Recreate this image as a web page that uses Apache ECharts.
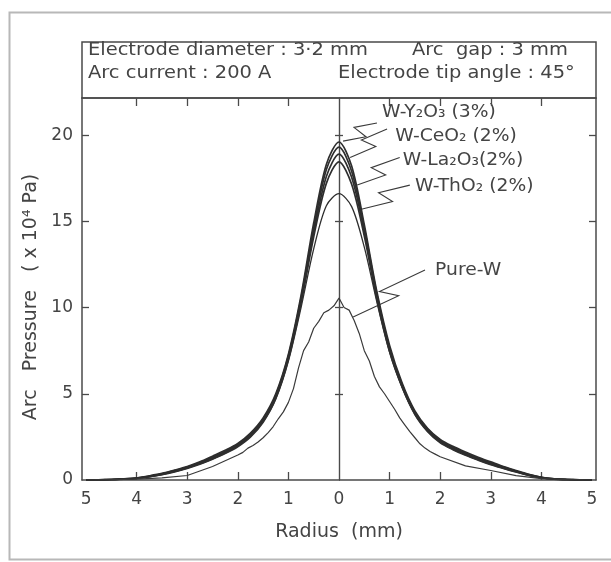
<!DOCTYPE html>
<html><head><meta charset="utf-8">
<script src="https://cdn.jsdelivr.net/npm/echarts@6/dist/echarts.min.js"></script>
<style>html,body{margin:0;padding:0;background:#fff}#c{width:611px;height:562px}</style>
</head><body><div id="c"></div>
<script>
// ---- data ----
const radius = [-5,-4.75,-4.5,-4.25,-4,-3.75,-3.5,-3.25,-3,-2.75,-2.5,-2.25,-2,-1.75,-1.5,-1.25,-1,-0.75,-0.5,-0.25,0,0.25,0.5,0.75,1,1.25,1.5,1.75,2,2.25,2.5,2.75,3,3.25,3.5,3.75,4,4.25,4.5,4.75,5];
const wY2O3  = [0,0.01,0.03,0.07,0.12,0.24,0.38,0.57,0.78,1.05,1.38,1.72,2.12,2.72,3.6,5.0,7.3,10.7,14.9,18.3,19.6,18.2,14.8,10.9,7.8,5.6,4.0,3.0,2.35,1.95,1.62,1.32,1.05,0.78,0.55,0.33,0.16,0.07,0.03,0.01,0];
const wCeO2  = [0,0.01,0.03,0.06,0.11,0.22,0.36,0.54,0.75,1.01,1.33,1.67,2.07,2.66,3.52,4.9,7.2,10.55,14.6,18.0,19.3,17.9,14.6,10.75,7.65,5.5,3.93,2.95,2.3,1.9,1.57,1.27,1.0,0.75,0.52,0.31,0.15,0.06,0.03,0.01,0];
const wLa2O3 = [0,0.01,0.03,0.06,0.1,0.2,0.34,0.51,0.72,0.97,1.28,1.62,2.02,2.6,3.45,4.82,7.1,10.4,14.35,17.6,18.9,17.55,14.4,10.6,7.55,5.43,3.88,2.9,2.25,1.85,1.52,1.22,0.96,0.72,0.5,0.3,0.14,0.06,0.03,0.01,0];
const wOther = [0,0.01,0.02,0.05,0.1,0.19,0.32,0.49,0.7,0.94,1.24,1.57,1.97,2.54,3.4,4.75,7.0,10.25,14.1,17.2,18.45,17.15,14.15,10.45,7.45,5.38,3.83,2.85,2.2,1.8,1.47,1.18,0.92,0.69,0.48,0.28,0.13,0.05,0.02,0.01,0];
const wThO2  = [0,0.01,0.02,0.05,0.09,0.18,0.3,0.46,0.66,0.9,1.19,1.52,1.92,2.48,3.33,4.68,6.9,10.0,13.4,15.9,16.6,15.85,13.5,10.3,7.4,5.33,3.78,2.8,2.15,1.75,1.42,1.14,0.88,0.66,0.45,0.26,0.12,0.05,0.02,0.01,0];
const pureWRadius = [-5,-4.5,-4,-3.5,-3,-2.5,-2,-1.9,-1.8,-1.7,-1.6,-1.5,-1.4,-1.3,-1.2,-1.1,-1,-0.9,-0.8,-0.7,-0.6,-0.5,-0.4,-0.3,-0.2,-0.1,0,0.1,0.2,0.3,0.4,0.5,0.6,0.7,0.8,0.9,1,1.1,1.2,1.3,1.4,1.5,1.6,1.7,1.8,1.9,2,2.5,3,3.5,4,4.5,5];
const pureW = [0,0.02,0.05,0.12,0.26,0.78,1.45,1.6,1.85,2.0,2.2,2.45,2.75,3.1,3.55,3.95,4.5,5.3,6.5,7.5,8.0,8.8,9.2,9.7,9.85,10.1,10.55,10.0,9.85,9.25,8.5,7.5,6.9,6.0,5.4,5.0,4.55,4.1,3.6,3.2,2.8,2.45,2.1,1.85,1.65,1.5,1.35,0.82,0.55,0.25,0.08,0.02,0];
const xTickLabels = [-5,-4,-3,-2,-1,0,1,2,3,4,5];
const xInnerTicks = [-4,-3,-2,-1,1,2,3,4];
const yTickLabels = [0,5,10,15,20];
const yInnerTicks = [5,10,15,20];
const seriesNames = ['W-Y₂O₃ (3%)','W-CeO₂ (2%)','W-La₂O₃(2%)','','W-ThO₂ (2%)','Pure-W'];
const infoLines = [['Electrode diameter : 3·2 mm','Arc  gap : 3 mm'],['Arc current : 200 A','Electrode tip angle : 45°']];
// annotation anchors in data units: [labelX, labelY, leaderStartX, leaderStartY, leaderEndX, leaderEndY]
const callouts = [
  [0.85,21.33, 0.75,20.7, 0.08,19.65],
  [1.11,19.9, 0.95,20.35, 0.22,18.7],
  [1.26,18.55, 1.2,18.7, 0.36,17.1],
  [1.50,17.0, 1.4,17.1, 0.44,15.7],
  [1.90,12.17, 1.70,12.17, 0.28,9.45]
];
const calloutNames = ['W-Y₂O₃ (3%)','W-CeO₂ (2%)','W-La₂O₃(2%)','W-ThO₂ (2%)','Pure-W'];

// ---- chart ----
const chart = echarts.init(document.getElementById('c'));
const ink = '#2e2e2e', axisCol = '#4a4a4a', txt = '#444', font = 'DejaVu Sans';
const yMax = 22.15;
function pairs(xs, ys){ return xs.map((x,i)=>[x, ys[i]]); }
const thick = [wY2O3, wCeO2, wLa2O3, wOther, wThO2];
const series = thick.map((v,i)=>({
  type:'line', name: seriesNames[i], data: pairs(radius, v), showSymbol:false, smooth:0.3,
  lineStyle:{color: ink, width: i===4 ? 1.3 : 1.7}, silent:true, z: 3
}));
series.push({type:'line', name: seriesNames[5], data: pairs(pureWRadius, pureW), showSymbol:false, smooth:false,
  lineStyle:{color: '#3a3a3a', width:1.2}, silent:true, z:3});

const xCommon = {type:'value', min:-5.08, max:5.08, splitLine:{show:false}};
const yCommon = {type:'value', min:0, max:yMax, splitLine:{show:false}};
const lineSt = {color: axisCol, width: 1.5};
const tickSt = {color: axisCol, width: 1.3};

chart.setOption({
  animation:false,
  backgroundColor:'#ffffff',
  grid:{left:82, right:15, top:98, bottom:82},
  xAxis:[
    Object.assign({}, xCommon, {position:'bottom', axisLine:{onZero:false, lineStyle:lineSt},
      axisTick:{inside:true, length:8, customValues:xInnerTicks, lineStyle:tickSt},
      axisLabel:{customValues:xTickLabels, formatter:v=>String(Math.abs(Math.round(v))), color:txt, fontSize:17, fontFamily:font, margin:11},
      name:'Radius  (mm)', nameLocation:'middle', nameGap:43, nameTextStyle:{color:txt, fontSize:19, fontFamily:font}}),
    Object.assign({}, xCommon, {position:'top', axisLine:{onZero:false, lineStyle:lineSt},
      axisTick:{inside:true, length:8, customValues:xInnerTicks, lineStyle:tickSt}, axisLabel:{show:false}})
  ],
  yAxis:[
    Object.assign({}, yCommon, {position:'left', axisLine:{show:true, onZero:false, lineStyle:lineSt},
      axisTick:{inside:true, length:7, customValues:yInnerTicks, lineStyle:tickSt},
      axisLabel:{customValues:yTickLabels, color:txt, fontSize:17, fontFamily:font, margin:9},
      name:'Arc   Pressure   ( x 10⁴ Pa)', nameLocation:'middle', nameRotate:90, nameGap:35,
      nameTextStyle:{color:txt, fontSize:19, fontFamily:font, padding:[0,16,0,0]}}),
    Object.assign({}, yCommon, {position:'right', axisLine:{show:true, onZero:false, lineStyle:lineSt},
      axisTick:{inside:true, length:7, customValues:yInnerTicks, lineStyle:tickSt}, axisLabel:{show:false}}),
    Object.assign({}, yCommon, {position:'left', axisLine:{show:true, onZero:true, onZeroAxisIndex:0, lineStyle:{color:axisCol,width:1.2}},
      axisTick:{inside:true, length:4, customValues:yInnerTicks, lineStyle:tickSt}, axisLabel:{show:false}}),
    Object.assign({}, yCommon, {position:'left', axisLine:{show:true, onZero:true, onZeroAxisIndex:0, lineStyle:{color:axisCol,width:1.2}},
      axisTick:{inside:false, length:4, customValues:yInnerTicks, lineStyle:tickSt}, axisLabel:{show:false}})
  ],
  series: series
});

// ---- annotations ----
const px = p => chart.convertToPixel({gridIndex:0}, p);
const g = [];
// scan border
g.push({type:'rect', shape:{x:9.5, y:12.5, width:700, height:547}, style:{fill:'none', stroke:'#b8b8b8', lineWidth:2}, silent:true});
// info box above plot
const gl = 82, gr = 611-15, gt = 98;
g.push({type:'rect', shape:{x:gl, y:42, width:gr-gl, height:gt-42}, style:{fill:'none', stroke:axisCol, lineWidth:1.5}, silent:true});
const infoPos = [[[88,50],[412,50]],[[88,73],[338,73]]];
infoLines.forEach((row,r)=>row.forEach((s,c)=>{
  g.push({type:'text', x:infoPos[r][c][0], y:infoPos[r][c][1], scaleX:1.08,
    style:{text:s, fill:txt, font:'18px "DejaVu Sans"', verticalAlign:'middle', align:'left'}, silent:true});
}));
// callouts
callouts.forEach((c,i)=>{
  const L = px([c[0],c[1]]), S = px([c[2],c[3]]), E = px([c[4],c[5]]);
  g.push({type:'text', x:L[0], y:L[1], scaleX:1.04,
    style:{text:calloutNames[i], fill:txt, font:'18px "DejaVu Sans"', verticalAlign:'middle', align:'left'}, silent:true});
  const dx = E[0]-S[0], dy = E[1]-S[1], len = Math.hypot(dx,dy);
  const nx = dy/len, ny = -dx/len;
  const w = 7;
  const A = [S[0]+0.58*dx - w*nx, S[1]+0.58*dy - w*ny];
  const B = [S[0]+0.42*dx + w*nx, S[1]+0.42*dy + w*ny];
  g.push({type:'polyline', shape:{points:[S,A,B,E]}, style:{stroke:'#3a3a3a', lineWidth:1.1, fill:'none'}, silent:true});
});
chart.setOption({graphic: g});
</script></body></html>
